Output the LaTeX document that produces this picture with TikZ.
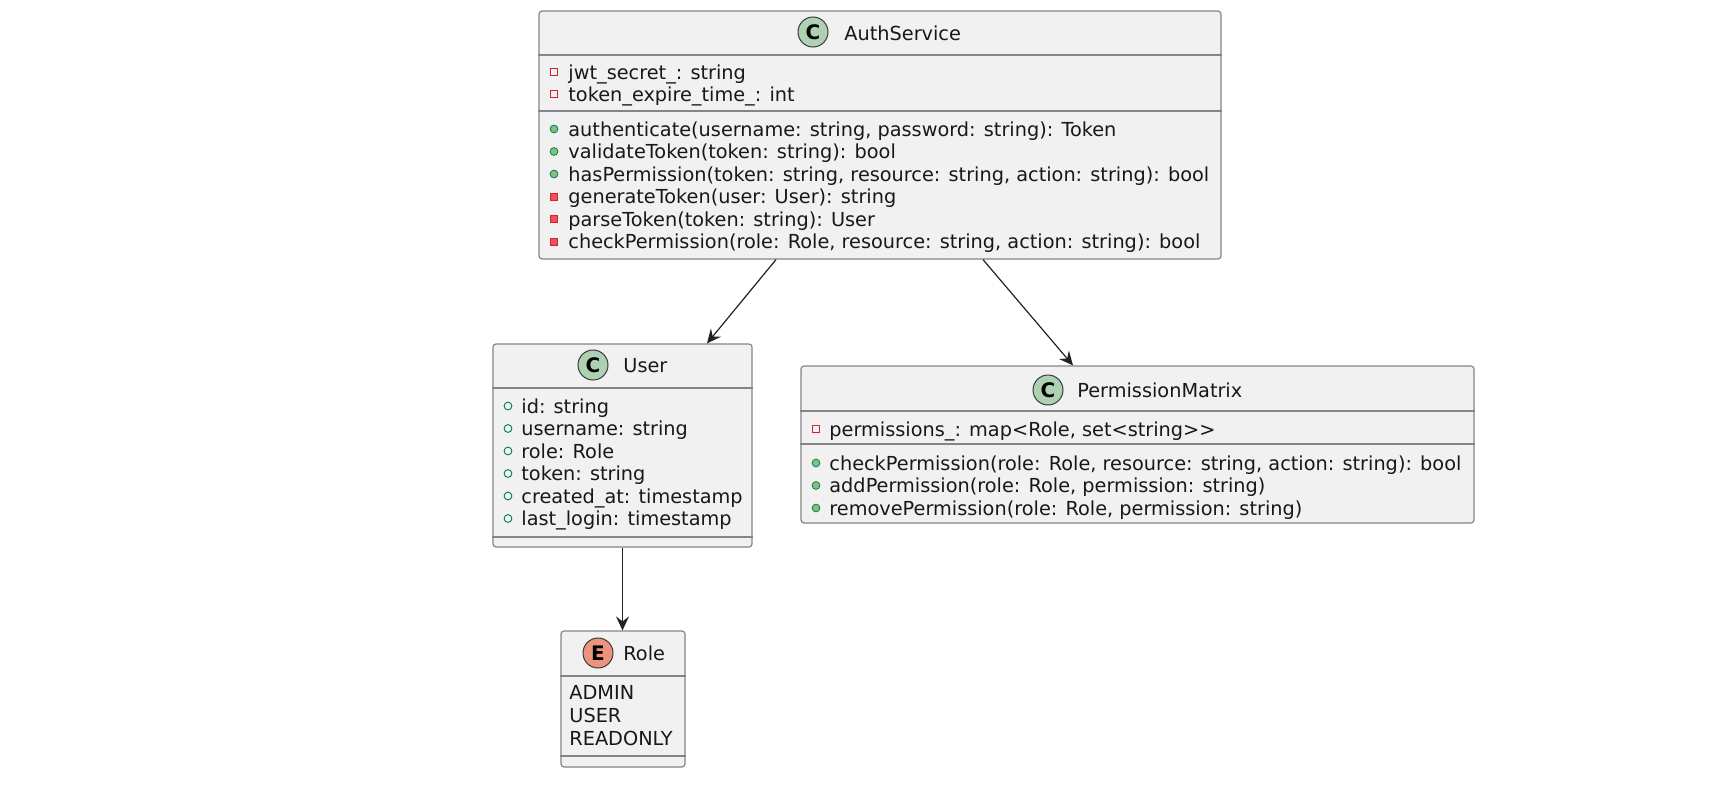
\documentclass[tikz,border=0pt]{standalone}
\usepackage{fontspec}
\setmainfont{DejaVu Sans}
\usetikzlibrary{fit,arrows.meta}

\definecolor{boxfill}{HTML}{F1F1F1}
\definecolor{boxline}{HTML}{858585}
\definecolor{spotline}{HTML}{3A3A3A}
\definecolor{classspot}{HTML}{ADD1B2}
\definecolor{enumspot}{HTML}{EB937F}
\definecolor{privred}{HTML}{C82930}
\definecolor{privfill}{HTML}{F24D5C}
\definecolor{pubgreen}{HTML}{038048}
\definecolor{pubfill}{HTML}{84BE84}
\definecolor{txt}{HTML}{181818}
\definecolor{arrowc}{HTML}{222222}

\tikzset{
  classbox/.style={draw=boxline, fill=boxfill, line width=0.6pt, rounded corners=1.5pt, inner sep=0pt},
  sepline/.style={draw=boxline, line width=0.6pt},
  member/.style={anchor=base west, inner sep=0pt, text=txt, font=\fontsize{9.65pt}{11pt}\selectfont},
  spot/.style={circle, draw=spotline, line width=0.5pt, minimum size=15pt, inner sep=0pt, text=black, font=\fontsize{10pt}{10pt}\selectfont\bfseries},
  privfield/.style={rectangle, draw=privred, line width=0.4pt, minimum size=3.6pt, inner sep=0pt},
  privmeth/.style={rectangle, draw=privred, fill=privfill, line width=0.4pt, minimum size=3.6pt, inner sep=0pt},
  pubfield/.style={circle, draw=pubgreen, line width=0.45pt, minimum size=3.9pt, inner sep=0pt},
  pubmeth/.style={circle, draw=pubgreen, fill=pubfill, line width=0.4pt, minimum size=3.9pt, inner sep=0pt},
  assoc/.style={draw=arrowc, line width=0.6pt, -{Stealth[length=7pt, width=6.5pt, inset=2.5pt]}},
}

\begin{document}
\begin{tikzpicture}[x=0.5pt, y=-0.5pt]
  \useasboundingbox (0,0) rectangle (1719,803);

  % AuthService
  \node[classbox, fit={(539,11) (1221,259)}] (auth) {};
  \draw[sepline] (auth.west |- 0,55) -- (auth.east |- 0,55);
  \draw[sepline] (auth.west |- 0,111) -- (auth.east |- 0,111);
  \node[spot, fill=classspot] (authspot) at (813,32) {C};
  \node[member] (authname) at (844,40) {AuthService};
  \foreach \vis/\txt/\yy [count=\i] in {
      privfield/{jwt\_secret\_: string}/79,
      privfield/{token\_expire\_time\_: int}/101,
      pubmeth/{authenticate(username: string, password: string): Token}/136,
      pubmeth/{validateToken(token: string): bool}/158.5,
      pubmeth/{hasPermission(token: string, resource: string, action: string): bool}/181,
      privmeth/{generateToken(user: User): string}/203.5,
      privmeth/{parseToken(token: string): User}/226,
      privmeth/{checkPermission(role: Role, resource: string, action: string): bool}/248.5} {
    \node[\vis] (authmark\i) at (554,\yy-7) {};
    \node[member] (authrow\i) at (568,\yy) {\txt};
  }

  % User
  \node[classbox, fit={(493,344) (752,547)}] (user) {};
  \draw[sepline] (user.west |- 0,388) -- (user.east |- 0,388);
  \draw[sepline] (user.west |- 0,537) -- (user.east |- 0,537);
  \node[spot, fill=classspot] (userspot) at (593,365) {C};
  \node[member] (username) at (623,372) {User};
  \foreach \txt/\yy [count=\i] in {
      {id: string}/413,
      {username: string}/435.5,
      {role: Role}/458,
      {token: string}/480.5,
      {created\_at: timestamp}/503,
      {last\_login: timestamp}/525.5} {
    \node[pubfield] (usermark\i) at (508,\yy-7) {};
    \node[member] (userrow\i) at (521,\yy) {\txt};
  }

  % PermissionMatrix
  \node[classbox, fit={(801,366) (1474,523)}] (perm) {};
  \draw[sepline] (perm.west |- 0,411) -- (perm.east |- 0,411);
  \draw[sepline] (perm.west |- 0,444) -- (perm.east |- 0,444);
  \node[spot, fill=classspot] (permspot) at (1048,390) {C};
  \node[member] (permname) at (1077,397) {PermissionMatrix};
  \foreach \vis/\txt/\yy [count=\i] in {
      privfield/{permissions\_: map<Role, set<string>{}>}/436,
      pubmeth/{checkPermission(role: Role, resource: string, action: string): bool}/470,
      pubmeth/{addPermission(role: Role, permission: string)}/492.5,
      pubmeth/{removePermission(role: Role, permission: string)}/515} {
    \node[\vis] (permmark\i) at (816,\yy-7) {};
    \node[member] (permrow\i) at (829,\yy) {\txt};
  }

  % Role (enum)
  \node[classbox, fit={(561,631) (685,767)}] (role) {};
  \draw[sepline] (role.west |- 0,676) -- (role.east |- 0,676);
  \draw[sepline] (role.west |- 0,756) -- (role.east |- 0,756);
  \node[spot, fill=enumspot] (rolespot) at (598,653) {E};
  \node[member] (rolename) at (623,660) {Role};
  \foreach \txt/\yy [count=\i] in {ADMIN/699, USER/722, READONLY/745} {
    \node[member] (rolerow\i) at (569,\yy) {\txt};
  }

  % associations
  \draw[assoc] (auth.south -| 776,0) -- (user.north -| 707,0);
  \draw[assoc] (auth.south -| 983,0) -- (perm.north -| 1073,0);
  \draw[assoc] (user.south) -- (role.north -| user.south);
\end{tikzpicture}
\end{document}
